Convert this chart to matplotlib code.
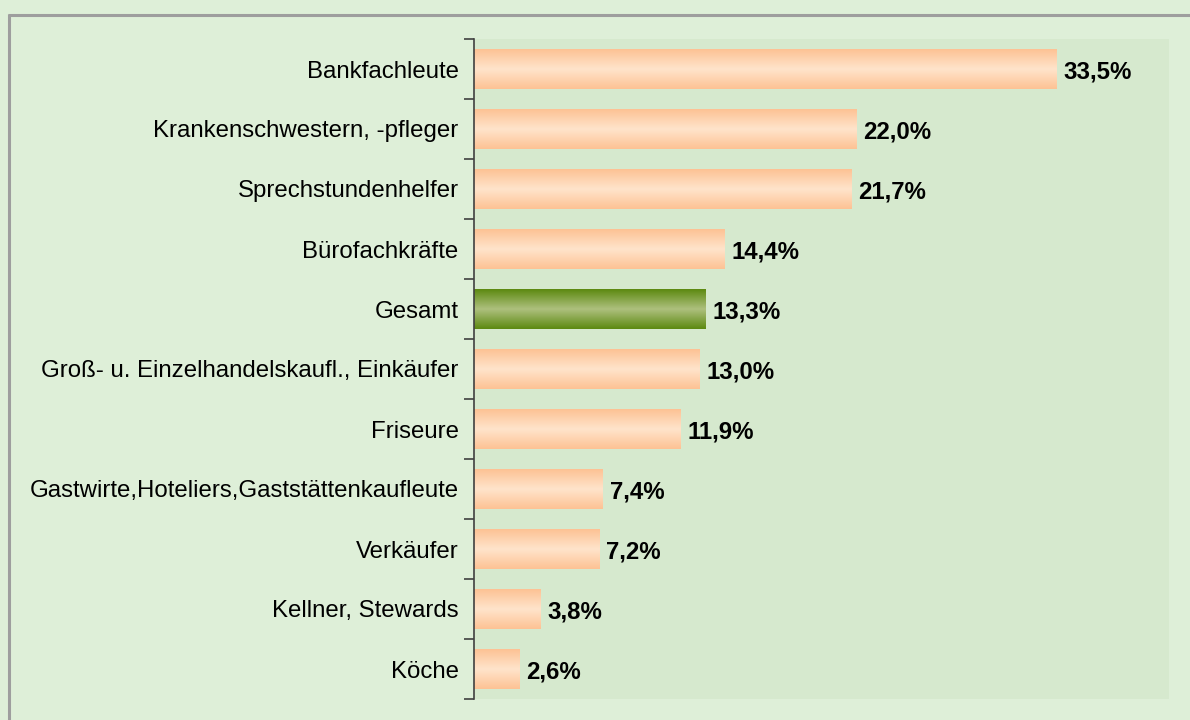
import numpy as np
import matplotlib.pyplot as plt
from matplotlib.colors import LinearSegmentedColormap
from matplotlib.lines import Line2D

plt.rcParams['font.family'] = ['Liberation Sans', 'DejaVu Sans']

# data, top to bottom
berufe = ["Bankfachleute", "Krankenschwestern, -pfleger", "Sprechstundenhelfer",
          "Bürofachkräfte", "Gesamt", "Groß- u. Einzelhandelskaufl., Einkäufer",
          "Friseure", "Gastwirte,Hoteliers,Gaststättenkaufleute", "Verkäufer",
          "Kellner, Stewards", "Köche"]
anteil = [33.5, 22.0, 21.7, 14.4, 13.3, 13.0, 11.9, 7.4, 7.2, 3.8, 2.6]
highlight = "Gesamt"

W, H = 1190, 720
fig = plt.figure(figsize=(W / 100, H / 100), dpi=100)
fig.patch.set_facecolor("#DEEFD8")

# frame shadow on left and top
fig.add_artist(Line2D([9 / W, 9 / W], [0, 1 - 14 / H], color="#9E9E9E", lw=2.2,
                      solid_capstyle="butt"))
fig.add_artist(Line2D([8 / W, 1], [1 - 14.5 / H, 1 - 14.5 / H], color="#9E9E9E", lw=2.2,
                      solid_capstyle="butt"))

ax = fig.add_axes([474 / W, 21 / H, (1169 - 474) / W, (699 - 39) / H])
ax.set_facecolor("#D6E9CE")

peach = LinearSegmentedColormap.from_list("peach", ["#FDC294", "#FFE4CB", "#FDC294"])
green = LinearSegmentedColormap.from_list("green", ["#5C8910", "#AEC07E", "#5C8910"])
grad = np.linspace(0, 1, 256).reshape(-1, 1)

n = len(berufe)
ypos = np.arange(n)
bar_h = 0.66
for y, name, v in zip(ypos, berufe, anteil):
    cmap = green if name == highlight else peach
    ax.imshow(grad, cmap=cmap, aspect="auto", interpolation="bicubic",
              extent=[0, v, y + bar_h / 2, y - bar_h / 2], zorder=2)
    ax.text(v + 0.4, y, f"{v:.1f}%".replace(".", ","), va="center_baseline", ha="left",
            fontsize=17.3, fontweight="bold", color="black")

ax.set_xlim(0, 40)
ax.set_ylim(n - 0.5, -0.5)
ax.set_yticks(ypos)
ax.set_yticklabels(berufe, fontsize=17.3, va="center_baseline")
ax.set_yticks(np.arange(n + 1) - 0.5, minor=True)
ax.tick_params(axis="y", which="major", length=0, pad=11)
ax.tick_params(axis="y", which="minor", length=7, width=1.2, color="#404040")
ax.set_xticks([])
for s in ["top", "right", "bottom"]:
    ax.spines[s].set_visible(False)
ax.spines["left"].set_color("#404040")
ax.spines["left"].set_linewidth(1.2)

fig.savefig("out.png", dpi=100, facecolor=fig.get_facecolor())
